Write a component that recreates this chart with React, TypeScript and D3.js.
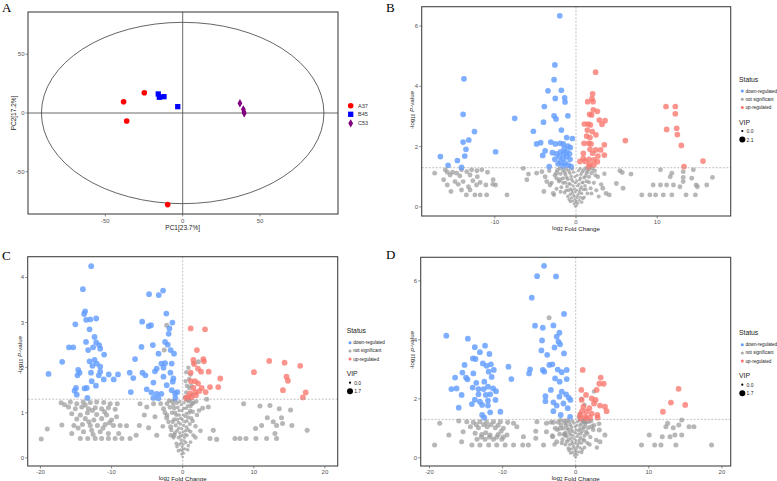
import React from 'react';
import * as d3 from 'd3';

// ---------------- PCA data (panel A) ----------------
const pcaGroups = ['A37', 'B45', 'C53'];
const pcaA37 = [[-38.2, 9.6], [-36.2, -6.8], [-24.8, 17.3], [-9.7, -78]];
const pcaB45 = [[-15.8, 16.2], [-15.1, 13.4], [-12.1, 13.9], [-3.2, 5.4]];
const pcaC53 = [[37, 8.3], [39.2, 3.1], [39.6, 0.8], [39.8, -0.3]];
const pcaTicks = [-50, 0, 50];
const pcaEllipse = [91.3, 77.2];
const pcaXTitle = 'PC1[23.7%]';
const pcaYTitle = 'PC2[17.2%]';

// ---------------- Volcano B ----------------
const downB = [[-2.0,6.34],[-13.8,4.25],[-2.6,4.71],[-2.7,4.22],[-3.45,3.85],[-1.8,3.87],[-1.4,3.62],[-2.55,3.6],[-1.35,3.48],[-3.9,3.33],[-13.9,3.07],[-7.55,2.94],[-2.7,3.02],[-1.0,3.02],[-2.46,2.92],[-4.0,2.81],[-12.5,2.5],[-5.25,2.51],[-1.8,2.55],[-13.2,2.22],[-13.9,2.15],[-1.15,2.3],[-0.45,2.27],[-4.85,2.09],[-4.35,2.13],[-3.1,2.15],[-2.55,2.09],[-1.97,2.11],[-1.56,2.09],[-0.7,1.97],[-13.55,1.91],[-9.9,1.83],[-3.8,1.86],[-4.1,1.71],[-13.7,1.69],[-16.7,1.67],[-14.6,1.54],[-15.75,1.38],[-14.1,1.31],[-3.3,1.34],[-2.9,1.8],[-2.4,1.76],[-1.9,1.83],[-1.5,1.78],[-1.15,1.83],[-0.8,1.76],[-2.05,1.67],[-1.56,1.61],[-1.15,1.67],[-0.74,1.58],[-1.9,1.5],[-1.35,1.45],[-0.95,1.39],[-0.6,1.34],[-2.2,1.43],[-1.6,1.36],[-2.6,1.58],[-1.0,2.02],[-1.45,1.94]];
const upB = [[2.42,4.47],[2.05,3.75],[1.97,3.59],[1.44,3.49],[2.1,3.49],[2.13,3.22],[2.63,3.17],[1.68,3.07],[1.93,3.05],[2.87,2.88],[3.57,2.86],[3.2,2.74],[1.03,2.75],[1.48,2.75],[1.77,2.72],[1.4,2.55],[2.0,2.5],[1.31,2.35],[2.46,2.39],[1.72,2.3],[0.99,2.11],[1.56,2.11],[1.85,2.09],[3.49,2.06],[6.08,2.2],[3.04,1.89],[2.42,1.89],[1.72,1.91],[0.9,1.78],[2.05,1.78],[2.7,1.69],[3.49,1.72],[0.9,1.61],[1.6,1.58],[2.2,1.56],[0.49,1.51],[1.15,1.51],[2.63,1.5],[1.72,1.41],[2.2,1.39],[1.56,1.34],[11.08,3.33],[12.23,3.33],[12.23,3.09],[11.16,2.57],[12.4,2.61],[12.48,2.4],[12.97,2.04],[13.3,1.34],[15.64,1.52]];
const nsB = [[-17.4,1.12],[-15.85,1.15],[-15.2,1.15],[-14.7,1.12],[-14.1,1.23],[-13.45,1.17],[-12.85,1.23],[-12.2,1.2],[-11.6,1.23],[-10.9,1.15],[-15.5,1.06],[-14.3,1.03],[-13.05,1.06],[-12.15,1.0],[-16.3,0.9],[-14.9,0.84],[-13.9,0.84],[-12.7,0.87],[-11.8,0.81],[-10.2,0.9],[-15.85,0.73],[-14.5,0.75],[-13.25,0.67],[-12.25,0.73],[-11.1,0.73],[-9.9,0.73],[-15.4,0.51],[-14.1,0.56],[-13.05,0.56],[-13.5,0.4],[-12.45,0.4],[-11.8,0.4],[-11.0,0.4],[-8.5,0.4],[-10.25,0.75],[-16.1,1.23],[-6.5,1.28],[-5.85,1.09],[-6.05,0.9],[-4.85,1.12],[-4.2,1.17],[-3.8,1.0],[-3.6,0.84],[-3.2,0.73],[-3.95,0.51],[-2.8,0.45],[-2.4,1.12],[-2.0,0.9],[5.4,1.2],[5.7,1.14],[6.77,1.09],[4.97,0.78],[5.8,0.62],[3.3,0.62],[3.7,0.45],[4.1,0.4],[8.1,0.4],[9.1,0.4],[9.8,0.4],[10.75,0.4],[11.8,0.4],[13.55,0.4],[14.7,0.4],[9.5,0.73],[10.4,0.73],[11.16,0.73],[12.0,0.73],[12.8,0.67],[13.2,0.84],[14.25,0.95],[14.8,0.73],[16.1,0.73],[16.8,0.98],[10.4,1.23],[11.8,1.12],[11.6,1.0],[13.2,1.17],[14.45,1.23],[13.2,0.98],[14.95,0.67]];
const coreB = [[-0.1,0.02,0.2],[0.1,0.05,0.2],[-0.25,0.1,0.3],[0.25,0.12,0.3],[-0.4,0.2,0.4],[0.4,0.22,0.4],[-0.15,0.25,0.3],[0.15,0.3,0.3],[-0.55,0.3,0.5],[0.55,0.32,0.5],[-0.3,0.4,0.4],[0.35,0.45,0.4],[-0.7,0.42,0.6],[0.7,0.45,0.6],[-0.5,0.55,0.5],[0.5,0.6,0.5],[-0.9,0.55,0.7],[0.9,0.58,0.7],[-0.2,0.6,0.4],[0.2,0.7,0.4],[-1.1,0.68,0.8],[1.1,0.7,0.8],[-0.7,0.75,0.6],[0.75,0.8,0.6],[-1.3,0.8,0.9],[1.3,0.85,0.9],[-0.4,0.85,0.5],[0.45,0.9,0.5],[-1.0,0.92,0.8],[1.0,0.97,0.8],[-1.6,0.95,1.0],[1.6,1.0,1.0],[-0.6,1.02,0.6],[0.6,1.08,0.6],[-1.3,1.08,0.9],[1.3,1.12,0.9],[-1.9,1.1,1.0],[1.9,1.12,1.0],[-0.3,1.15,0.5],[0.3,1.2,0.5],[-0.9,1.2,0.8],[0.9,1.22,0.8],[-1.6,1.22,1.0],[1.6,1.25,1.0],[-2.3,1.22,1.1],[2.3,1.2,1.1],[-2.6,1.05,1.1],[2.7,1.0,1.1],[-2.1,0.85,1.0],[2.2,0.8,1.0],[-1.8,0.65,0.9],[1.8,0.62,0.9],[-1.4,0.48,0.8],[1.4,0.45,0.8],[-1.0,0.35,0.7],[1.0,0.32,0.7],[-0.7,0.18,0.6],[0.7,0.16,0.6],[-3.0,0.8,1.1],[3.1,0.75,1.1],[-2.4,0.6,1.0],[2.5,0.55,1.0],
  [-0.05,0.15,0.3],[0.05,0.18,0.3],[-0.2,0.35,0.4],[0.2,0.38,0.4],[-0.45,0.48,0.5],[0.45,0.52,0.5],[-0.1,0.5,0.35],[0.1,0.55,0.35],[-0.65,0.6,0.6],[0.65,0.66,0.6],[-0.35,0.7,0.5],[0.35,0.76,0.5],[-0.85,0.78,0.7],[0.85,0.82,0.7],[-0.1,0.8,0.4],[0.1,0.86,0.4],[-0.55,0.92,0.6],[0.55,0.96,0.6],[-1.15,0.98,0.8],[1.15,1.02,0.8],[-0.15,1.0,0.45],[0.15,1.05,0.45],[-0.75,1.12,0.7],[0.75,1.15,0.7],[-1.4,1.15,0.9],[1.4,1.18,0.9],[-0.45,1.25,0.6],[0.5,1.27,0.6],[-1.2,1.27,0.9],[1.2,1.28,0.9],[-2.0,1.28,1.0],[2.0,1.27,1.0],[-1.6,0.8,0.9],[1.6,0.82,0.9],[-2.4,0.95,1.0],[2.4,1.05,1.0],[-1.9,0.5,0.9],[1.9,0.45,0.9],[-1.2,0.55,0.8],[1.2,0.58,0.8],[-0.85,0.25,0.6],[0.85,0.27,0.6],[-3.3,1.2,1.1],[3.5,1.1,1.1],[-2.7,0.4,0.9],[2.8,0.35,0.9]];

// ---------------- Volcano C ----------------
const downC = [[-12.87,4.25],[-14.04,3.74],[-13.72,3.25],[-13.86,3.19],[-13.0,3.07],[-12.17,3.09],[-13.58,3.06],[-13.1,2.85],[-15.1,2.96],[-12.4,2.68],[-12.17,2.56],[-13.6,2.57],[-16.0,2.45],[-15.4,2.45],[-11.75,2.5],[-11.6,2.42],[-13.3,2.39],[-12.6,2.45],[-16.95,2.13],[-11.05,2.29],[-13.1,2.14],[-12.4,2.17],[-12.08,2.09],[-12.7,2.04],[-11.6,2.02],[-18.87,1.86],[-14.7,1.95],[-14.5,1.89],[-12.9,1.89],[-11.6,1.91],[-10.4,1.85],[-9.1,1.85],[-14.8,1.83],[-11.8,1.83],[-11.1,1.74],[-9.7,1.74],[-12.8,1.7],[-12.2,1.6],[-15.0,1.55],[-13.8,1.54],[-15.2,1.49],[-13.5,1.55],[-14.9,1.4],[-13.4,1.33],[-4.73,3.63],[-3.37,3.61],[-2.76,3.71],[-5.7,3.02],[-4.45,2.94],[-4.78,2.92],[-2.3,3.2],[-1.45,3.0],[-1.87,2.87],[-1.97,2.75],[-4.2,2.5],[-5.8,2.46],[-2.48,2.57],[-2.1,2.51],[-3.4,2.31],[-1.69,2.39],[-1.22,2.31],[-6.7,2.19],[-3.0,2.09],[-2.48,2.1],[-1.55,2.09],[-3.65,1.98],[-2.7,2.0],[-3.9,1.92],[-7.45,1.89],[-5.66,1.89],[-5.24,1.83],[-6.95,1.77],[-1.73,1.89],[-1.31,1.76],[-1.4,1.69],[-2.7,1.8],[-4.12,1.67],[-2.25,1.61],[-1.55,1.5],[-4.4,1.45],[-7.3,1.46],[-3.65,1.42],[-3.0,1.42],[-1.08,1.43],[-0.75,1.46],[-1.03,1.33],[-4.12,1.33],[-3.42,1.32],[-5.06,1.52]];
const upC = [[1.12,2.87],[3.14,2.85],[2.0,2.39],[1.5,2.17],[2.9,2.19],[2.99,2.14],[1.6,2.08],[2.15,1.98],[2.57,1.91],[1.12,1.89],[3.65,1.91],[5.29,1.76],[1.17,1.7],[1.73,1.7],[2.15,1.65],[1.5,1.55],[2.67,1.55],[3.23,1.46],[3.84,1.57],[5.0,1.57],[2.34,1.48],[1.78,1.46],[1.03,1.43],[0.8,1.35],[0.47,1.33],[1.26,1.34],[1.87,1.39],[12.17,2.15],[14.33,2.11],[16.53,2.04],[10.02,1.9],[14.6,1.8],[14.8,1.71],[14.1,1.5],[17.3,1.45],[16.9,1.34]];
const nsC = [[-19.9,0.42],[-19.05,0.64],[-17.0,0.73],[-17.1,1.22],[-15.8,1.24],[-14.9,1.2],[-14.0,1.24],[-13.0,1.23],[-12.1,1.24],[-11.1,1.23],[-10.2,1.2],[-9.2,1.2],[-16.05,1.13],[-15.1,1.09],[-14.2,1.13],[-13.25,1.09],[-12.3,1.11],[-11.4,1.09],[-10.45,1.11],[-9.5,1.08],[-15.6,0.98],[-14.4,0.95],[-13.4,1.0],[-12.1,0.96],[-10.7,0.95],[-9.3,0.91],[-14.9,0.86],[-13.7,0.87],[-12.5,0.84],[-11.4,0.87],[-10.0,0.84],[-15.3,0.72],[-14.1,0.74],[-13.0,0.72],[-12.0,0.72],[-10.9,0.74],[-9.75,0.72],[-8.8,0.72],[-7.9,0.71],[-13.95,0.58],[-12.8,0.61],[-11.6,0.58],[-10.45,0.54],[-14.4,0.43],[-13.35,0.43],[-12.3,0.43],[-11.4,0.43],[-10.45,0.43],[-9.5,0.43],[-8.55,0.43],[-7.4,0.43],[-15.6,0.54],[-9.0,0.54],[-6.0,1.2],[-5.05,1.13],[-4.1,1.2],[-5.4,0.95],[-3.9,0.91],[-6.1,0.72],[-4.8,0.67],[-6.55,0.5],[-3.65,0.5],[-2.7,1.09],[-2.25,0.89],[-1.7,0.69],[-1.22,0.5],[-2.25,2.94],[-2.6,2.39],[2.2,2.13],[8.57,1.2],[10.86,1.15],[12.27,1.16],[13.58,1.09],[15.17,1.06],[11.9,0.89],[13.9,0.89],[12.73,0.8],[14.04,0.76],[15.35,0.72],[10.25,0.65],[11.1,0.72],[13.2,0.72],[17.5,0.61],[12.97,0.54],[7.35,0.43],[8.05,0.43],[8.9,0.43],[10.3,0.43],[11.8,0.43],[13.2,0.43],[3.84,0.43],[4.78,0.41],[4.3,0.61],[3.6,1.13],[3.37,1.3],
  [-16.6,1.18],[-13.7,1.17],[-12.7,1.05],[-11.0,1.02],[-14.7,0.66],[-11.2,0.66],[-12.6,0.52],[-13.2,0.8],[-10.3,0.78]];
const coreC = [[0.0,0.02,0.2],[-0.15,0.08,0.3],[0.15,0.1,0.3],[-0.3,0.18,0.4],[0.3,0.2,0.4],[-0.1,0.25,0.3],[0.1,0.3,0.3],[-0.45,0.3,0.5],[0.45,0.34,0.5],[-0.25,0.4,0.4],[0.25,0.45,0.4],[-0.6,0.45,0.6],[0.6,0.5,0.6],[-0.4,0.55,0.5],[0.4,0.6,0.5],[-0.8,0.6,0.7],[0.8,0.62,0.7],[-0.15,0.65,0.4],[0.15,0.72,0.4],[-1.0,0.72,0.8],[1.0,0.75,0.8],[-0.6,0.78,0.6],[0.6,0.82,0.6],[-1.2,0.85,0.9],[1.2,0.88,0.9],[-0.3,0.88,0.5],[0.35,0.92,0.5],[-0.9,0.95,0.8],[0.9,1.0,0.8],[-1.5,1.0,1.0],[1.4,1.02,1.0],[-0.5,1.05,0.6],[0.5,1.1,0.6],[-1.2,1.1,0.9],[1.1,1.15,0.9],[-1.8,1.12,1.0],[-0.2,1.18,0.5],[0.2,1.22,0.5],[-0.8,1.22,0.8],[0.8,1.25,0.8],[-1.5,1.25,1.0],[1.5,1.22,1.0],[-2.2,1.2,1.1],[-2.5,1.0,1.1],[2.0,0.95,1.0],[-2.0,0.8,1.0],[1.8,0.7,0.9],[-1.6,0.62,0.9],[1.5,0.5,0.8],[-1.3,0.45,0.8],[1.1,0.35,0.7],[-0.9,0.32,0.7],[0.7,0.18,0.6],[-0.6,0.16,0.6],[-2.8,0.7,1.0],[2.5,0.6,1.0],[0.5,1.45,0.9],[0.9,1.55,0.9],[0.4,1.7,0.8],[1.1,1.85,0.9],[0.8,2.0,0.9],[1.5,2.1,0.9],[0.3,1.35,0.8],[1.3,1.4,0.9],
  [-0.05,0.14,0.3],[0.05,0.2,0.3],[-0.2,0.34,0.4],[0.2,0.38,0.4],[-0.35,0.48,0.5],[0.35,0.52,0.5],[-0.05,0.5,0.35],[0.05,0.58,0.35],[-0.55,0.66,0.6],[0.55,0.68,0.6],[-0.3,0.75,0.5],[0.3,0.8,0.5],[-0.75,0.85,0.7],[0.75,0.9,0.7],[-0.05,0.85,0.4],[0.05,0.95,0.4],[-0.5,0.95,0.6],[0.5,0.98,0.6],[-1.05,1.0,0.8],[1.05,1.05,0.8],[-0.1,1.05,0.45],[0.15,1.1,0.45],[-0.7,1.12,0.7],[0.7,1.15,0.7],[-1.3,1.18,0.9],[1.3,1.2,0.9],[-0.4,1.25,0.6],[0.45,1.28,0.6],[-1.1,1.27,0.9],[1.0,1.28,0.9],[-1.9,1.27,1.0],[1.9,1.25,1.0],[-1.4,0.8,0.9],[1.4,0.82,0.9],[-2.2,0.95,1.0],[2.3,1.05,1.0],[-1.7,0.5,0.9],[1.8,0.45,0.9],[-1.1,0.55,0.8],[1.1,0.58,0.8],[-0.8,0.25,0.6],[0.8,0.27,0.6],[-3.1,1.2,1.1],[2.8,1.1,1.1],[0.6,1.6,0.9],[0.9,1.75,0.9],[0.5,1.9,0.9],[1.2,1.6,0.9]];

// ---------------- Volcano D ----------------
const downD = [[-4.33,6.51],[-5.28,6.16],[-2.69,6.15],[-6.01,5.43],[-1.59,4.88],[-5.56,4.48],[-4.5,4.41],[-3.05,4.49],[-2.23,4.24],[-17.7,4.14],[-14.75,4.04],[-2.6,4.11],[-4.6,3.98],[-2.37,3.94],[-2.14,3.85],[-13.8,3.75],[-12.4,3.8],[-2.9,3.74],[-4.69,3.64],[-3.9,3.49],[-1.6,3.54],[-13.1,3.58],[-11.8,3.52],[-14.06,3.37],[-13.7,3.35],[-12.7,3.2],[-3.6,3.15],[-3.19,3.17],[-15.2,3.15],[-12.2,3.12],[-11.6,3.17],[-9.2,3.09],[-11.9,2.92],[-6.24,3.0],[-6.38,2.86],[-4.5,2.98],[-4.3,2.92],[-2.46,2.99],[-1.91,2.9],[-1.23,2.98],[-15.5,2.89],[-15.0,2.72],[-14.0,2.86],[-11.2,2.98],[-16.5,2.72],[-14.8,2.66],[-8.8,2.67],[-13.6,2.54],[-12.5,2.58],[-11.5,2.74],[-2.82,2.69],[-2.19,2.58],[-1.23,2.67],[-14.1,2.38],[-13.3,2.33],[-12.6,2.33],[-12.0,2.41],[-11.3,2.35],[-10.9,2.26],[-17.0,2.33],[-16.3,2.35],[-15.6,2.13],[-13.3,2.15],[-12.3,2.13],[-11.7,2.15],[-3.4,2.3],[-1.91,2.24],[-1.32,2.15],[-0.96,2.04],[-0.73,1.96],[-4.14,2.09],[-2.23,2.07],[-13.8,1.97],[-13.1,1.9],[-12.0,1.94],[-10.97,1.96],[-14.2,1.82],[-12.8,1.79],[-12.0,1.77],[-16.0,1.7],[-4.14,1.92],[-3.05,1.88],[-2.6,1.77],[-1.68,1.84],[-1.09,1.68],[-3.05,1.58],[-10.3,1.56],[-11.7,1.54],[-12.8,1.45],[-2.05,1.45],[-0.77,1.39],[-12.5,1.36]];
const upD = [[0.96,2.98],[3.42,2.72],[3.83,2.51],[3.23,2.51],[0.77,2.3],[1.41,2.13],[2.19,2.01],[0.82,1.96],[2.87,2.3],[3.32,1.77],[4.0,1.73],[4.23,1.58],[2.73,1.96],[1.05,1.73],[1.87,1.68],[2.5,1.84],[0.87,1.58],[1.5,1.56],[2.19,1.5],[2.96,1.45],[0.59,1.45],[1.27,1.39],[1.96,1.36],[0.68,1.34],[1.5,1.34],[3.0,1.36],[14.07,2.34],[13.02,1.87],[14.98,1.79],[11.93,1.56]];
const nsD = [[-19.3,0.43],[-18.6,1.17],[-17.35,0.77],[-16.0,1.25],[-15.4,0.88],[-15.6,0.54],[-14.9,1.22],[-14.0,1.2],[-13.1,1.22],[-12.2,1.2],[-11.25,1.22],[-10.3,1.22],[-9.3,1.2],[-8.5,1.17],[-14.4,1.05],[-13.3,1.02],[-12.1,1.05],[-11.0,1.02],[-9.9,1.0],[-8.05,1.05],[-13.75,0.83],[-12.85,0.79],[-11.7,0.77],[-10.6,0.79],[-9.4,0.77],[-13.5,0.63],[-12.4,0.63],[-11.25,0.63],[-10.1,0.63],[-14.2,0.43],[-13.1,0.43],[-11.9,0.43],[-10.8,0.43],[-9.65,0.43],[-8.5,0.43],[-7.24,0.43],[-6.47,0.43],[-7.15,0.71],[-5.3,1.22],[-4.0,1.17],[-3.05,1.2],[-5.46,0.9],[-4.0,0.88],[-3.14,0.71],[-5.46,0.66],[-4.4,0.43],[-2.6,0.54],[-3.64,4.75],[-2.14,1.0],[-1.46,0.77],[1.18,1.22],[2.19,1.05],[3.23,0.94],[4.0,0.77],[3.32,0.54],[10.06,0.77],[9.0,0.43],[10.8,0.43],[11.66,0.43],[13.7,0.43],[18.58,0.43],[11.84,0.71],[12.9,0.71],[13.57,0.77],[14.5,0.77],[12.34,1.05],[13.34,1.02],[14.1,1.11],[14.5,1.28],[15.5,1.05],[16.17,1.05],[12.57,1.17],
  [-13.6,1.12],[-12.6,1.12],[-11.6,1.12],[-10.6,1.1],[-12.9,0.7],[-11.8,0.7],[-10.8,0.7],[-9.9,0.7],[-12.3,0.85],[-10.2,0.9]];
const coreD = [[0.0,0.02,0.2],[-0.2,0.08,0.3],[0.2,0.1,0.3],[-0.4,0.18,0.4],[0.4,0.2,0.4],[-0.1,0.25,0.3],[0.1,0.3,0.3],[-0.6,0.3,0.5],[0.6,0.34,0.5],[-0.3,0.4,0.4],[0.3,0.45,0.4],[-0.8,0.45,0.6],[0.8,0.5,0.6],[-0.5,0.55,0.5],[0.5,0.6,0.5],[-1.0,0.6,0.7],[1.0,0.62,0.7],[-0.2,0.65,0.4],[0.2,0.72,0.4],[-1.2,0.72,0.8],[1.2,0.75,0.8],[-0.7,0.78,0.6],[0.7,0.82,0.6],[-1.4,0.85,0.9],[1.4,0.88,0.9],[-0.4,0.88,0.5],[0.4,0.92,0.5],[-1.0,0.95,0.8],[1.0,1.0,0.8],[-1.7,1.0,1.0],[1.7,1.02,1.0],[-0.6,1.05,0.6],[0.6,1.1,0.6],[-1.3,1.1,0.9],[1.3,1.15,0.9],[-2.0,1.12,1.0],[-0.25,1.18,0.5],[0.25,1.22,0.5],[-0.9,1.22,0.8],[0.9,1.25,0.8],[-1.6,1.25,1.0],[1.8,1.22,1.0],[-2.4,1.2,1.1],[-2.8,1.0,1.1],[2.4,0.95,1.0],[-2.2,0.8,1.0],[2.0,0.7,0.9],[-1.8,0.62,0.9],[1.6,0.5,0.8],[-1.4,0.45,0.8],[1.2,0.35,0.7],[-1.0,0.32,0.7],[0.8,0.18,0.6],[-0.7,0.16,0.6],[-3.2,0.75,1.0],[2.8,0.6,1.0],[0.6,1.5,0.9],[1.2,1.8,0.9],[2.5,2.25,0.9],[0.8,2.0,0.9],[0.4,1.38,0.8],
  [-0.05,0.14,0.3],[0.05,0.2,0.3],[-0.25,0.34,0.4],[0.25,0.38,0.4],[-0.45,0.48,0.5],[0.45,0.52,0.5],[-0.05,0.5,0.35],[0.05,0.58,0.35],[-0.65,0.66,0.6],[0.65,0.68,0.6],[-0.35,0.75,0.5],[0.35,0.8,0.5],[-0.85,0.85,0.7],[0.85,0.9,0.7],[-0.05,0.85,0.4],[0.05,0.95,0.4],[-0.55,0.95,0.6],[0.55,0.98,0.6],[-1.15,1.0,0.8],[1.15,1.05,0.8],[-0.1,1.05,0.45],[0.15,1.1,0.45],[-0.75,1.12,0.7],[0.75,1.15,0.7],[-1.4,1.18,0.9],[1.4,1.2,0.9],[-0.45,1.25,0.6],[0.5,1.28,0.6],[-1.15,1.27,0.9],[1.1,1.28,0.9],[-2.1,1.27,1.0],[2.1,1.25,1.0],[-1.6,0.8,0.9],[1.6,0.82,0.9],[-2.5,0.95,1.0],[2.5,1.1,1.0],[-1.9,0.5,0.9],[1.9,0.45,0.9],[-1.2,0.55,0.8],[1.2,0.58,0.8],[-0.9,0.25,0.6],[0.9,0.27,0.6],[-3.4,1.2,1.1],[3.2,1.15,1.1],[-2.9,0.45,0.9],[2.9,0.35,0.9]];

const statusLabels = ['down-regulated', 'not significant', 'up-regulated'];
const statusColors = ['#619CFF', '#A9A9A9', '#F8766D'];

const FONT = 'Liberation Sans, Arial, sans-serif';
const SERIF = 'Liberation Serif, Times New Roman, serif';

function PCA() {
  const x = d3.scaleLinear().domain([-100, 100.4]).range([28, 338]);
  const y = d3.scaleLinear().domain([-86, 86]).range([214, 12]);
  const sq = d3.symbol().type(d3.symbolSquare).size(28)() as string;
  const dia = d3.symbol().type(d3.symbolDiamond).size(20)() as string;
  const legendY = [105.7, 114.3, 123.3];
  return (
    <g>
      <text x={2} y={11.7} fontFamily={SERIF} fontSize={13}>A</text>
      <rect x={28} y={12} width={310} height={202} fill="none" stroke="#444" strokeWidth={1.1} />
      <ellipse cx={x(0)} cy={y(0)} rx={x(pcaEllipse[0]) - x(0)} ry={y(0) - y(pcaEllipse[1])} fill="none" stroke="#222" strokeWidth={0.7} />
      <line x1={28} x2={338} y1={y(0)} y2={y(0)} stroke="#444" strokeWidth={0.8} />
      <line x1={x(0)} x2={x(0)} y1={12} y2={214} stroke="#444" strokeWidth={0.8} />
      {pcaTicks.map(t => (
        <g key={'x' + t}>
          <line x1={x(t)} x2={x(t)} y1={214} y2={216.5} stroke="#444" strokeWidth={0.6} />
          <text x={x(t)} y={221} fontSize={6} fill="#555" textAnchor="middle" dominantBaseline="central" fontFamily={FONT}>{t}</text>
          <line x1={25.5} x2={28} y1={y(t)} y2={y(t)} stroke="#444" strokeWidth={0.6} />
          <text x={24.5} y={y(t)} fontSize={6} fill="#555" textAnchor="end" dominantBaseline="central" fontFamily={FONT}>{t}</text>
        </g>
      ))}
      <text x={x(0)} y={227.7} fontSize={6.5} textAnchor="middle" dominantBaseline="central" fontFamily={FONT} fill="#222">{pcaXTitle}</text>
      <text transform={`translate(13.5,${y(0)}) rotate(-90)`} fontSize={6.5} textAnchor="middle" dominantBaseline="central" fontFamily={FONT} fill="#222">{pcaYTitle}</text>
      {pcaA37.map((d, i) => <circle key={'a' + i} cx={x(d[0])} cy={y(d[1])} r={2.8} fill="#FF0000" />)}
      {pcaB45.map((d, i) => <path key={'b' + i} d={sq} transform={`translate(${x(d[0])},${y(d[1])})`} fill="#0000FF" />)}
      {pcaC53.map((d, i) => <path key={'c' + i} d={dia} transform={`translate(${x(d[0])},${y(d[1])})`} fill="#800080" />)}
      {pcaGroups.map((g, i) => (
        <g key={g}>
          {i === 0 && <circle cx={350.7} cy={legendY[i]} r={2.8} fill="#FF0000" />}
          {i === 1 && <path d={sq} transform={`translate(350.7,${legendY[i]})`} fill="#0000FF" />}
          {i === 2 && <path d={dia} transform={`translate(350.7,${legendY[i]})`} fill="#800080" />}
          <text x={358} y={legendY[i]} fontSize={5.5} dominantBaseline="central" fontFamily={FONT} fill="#333">{g}</text>
        </g>
      ))}
    </g>
  );
}

type Cfg = {
  letter: string; letterX: number; letterY: number;
  box: number[]; xDomain: number[]; yDomain: number[];
  xTicks: number[]; yTicks: number[];
  down: number[][]; up: number[][]; ns: number[][]; core: number[][];
  vipSig: number; vipNs: number; vipMax: number;
  legX: number; legY: number; yTitleX: number; yTitleY: number;
};

function Volcano({ c }: { c: Cfg }) {
  const [l, t, r, b] = c.box;
  const x = d3.scaleLinear().domain(c.xDomain).range([l, r]);
  const y = d3.scaleLinear().domain(c.yDomain).range([b, t]);
  const rad = d3.scaleLinear().domain([0, c.vipMax]).range([1.1, 3.2]);
  const thr = -Math.log10(0.05);
  const pts = (arr: number[][], col: string, vip: number, op: number, key: string) =>
    arr.map((d, i) => (
      <circle key={key + i} cx={x(d[0])} cy={y(d[1])} r={rad(d[2] ?? vip)} fill={col} fillOpacity={op} />
    ));
  const lx = c.legX, ly = c.legY;
  return (
    <g>
      <text x={c.letterX} y={c.letterY} fontFamily={SERIF} fontSize={13}>{c.letter}</text>
      {pts(c.ns, '#999999', c.vipNs, 0.7, 'n')}
      {pts(c.core, '#999999', c.vipNs, 0.7, 'k')}
      {pts(c.down, statusColors[0], c.vipSig, 0.82, 'd')}
      {pts(c.up, statusColors[2], c.vipSig, 0.78, 'u')}
      <line x1={l} x2={r} y1={y(thr)} y2={y(thr)} stroke="#999" strokeWidth={0.6} strokeDasharray="2,1.5" />
      <line x1={x(0)} x2={x(0)} y1={t} y2={b} stroke="#999" strokeWidth={0.6} strokeDasharray="2,1.5" />
      <rect x={l} y={t} width={r - l} height={b - t} fill="none" stroke="#444" strokeWidth={1.1} />
      {c.xTicks.map(v => (
        <g key={'x' + v}>
          <line x1={x(v)} x2={x(v)} y1={b} y2={b + 2.5} stroke="#444" strokeWidth={0.6} />
          <text x={x(v)} y={b + 5.7} fontSize={6} fill="#555" textAnchor="middle" dominantBaseline="central" fontFamily={FONT}>{v}</text>
        </g>
      ))}
      {c.yTicks.map(v => (
        <g key={'y' + v}>
          <line x1={l - 2.5} x2={l} y1={y(v)} y2={y(v)} stroke="#444" strokeWidth={0.6} />
          <text x={l - 3.5} y={y(v)} fontSize={6} fill="#555" textAnchor="end" dominantBaseline="central" fontFamily={FONT}>{v}</text>
        </g>
      ))}
      <text x={x(0)} y={b + 11.7} fontSize={6.2} textAnchor="middle" dominantBaseline="central" fontFamily={FONT} fill="#222">
        log<tspan fontSize={4.5} dy={1.5}>2</tspan><tspan dy={-1.5}> Fold Change</tspan>
      </text>
      <text transform={`translate(${c.yTitleX},${c.yTitleY}) rotate(-90)`} fontSize={6.2} textAnchor="middle" dominantBaseline="central" fontFamily={FONT} fill="#222">
        -log<tspan fontSize={4.5} dy={1.5}>10</tspan><tspan dy={-1.5}> </tspan><tspan fontStyle="italic">P</tspan>-value
      </text>
      <text x={lx} y={ly} fontSize={6.8} dominantBaseline="central" fontFamily={FONT} fill="#222">Status</text>
      {statusLabels.map((s, i) => (
        <g key={s}>
          <circle cx={lx + 3.3} cy={ly + 12 + i * 8.2} r={1.5} fill={statusColors[i]} />
          <text x={lx + 6.5} y={ly + 12 + i * 8.2} fontSize={4.6} dominantBaseline="central" fontFamily={FONT} fill="#222">{s}</text>
        </g>
      ))}
      <text x={lx} y={ly + 43} fontSize={6.8} dominantBaseline="central" fontFamily={FONT} fill="#222">VIP</text>
      <circle cx={lx + 3.3} cy={ly + 52} r={rad(0)} fill="#000" />
      <text x={lx + 7.5} y={ly + 52} fontSize={5} dominantBaseline="central" fontFamily={FONT} fill="#222">0.0</text>
      <circle cx={lx + 3.3} cy={ly + 60.6} r={rad(c.vipMax) - 0.2} fill="#000" />
      <text x={lx + 7.5} y={ly + 60.6} fontSize={5} dominantBaseline="central" fontFamily={FONT} fill="#222">{c.vipMax.toFixed(1)}</text>
    </g>
  );
}

const cfgB: Cfg = {
  letter: 'B', letterX: 386, letterY: 11.7, box: [421.7, 6.7, 730.7, 216],
  xDomain: [-19, 19.05], yDomain: [-0.3, 6.64], xTicks: [-10, 0, 10], yTicks: [0, 2, 4, 6],
  down: downB, up: upB, ns: nsB, core: coreB, vipSig: 1.75, vipNs: 1.35, vipMax: 2.1,
  legX: 739, legY: 79, yTitleX: 411, yTitleY: 110,
};
const cfgC: Cfg = {
  letter: 'C', letterX: 2, letterY: 260, box: [27.7, 256.7, 337.7, 466],
  xDomain: [-21.8, 21.8], yDomain: [-0.18, 4.46], xTicks: [-20, -10, 0, 10, 20], yTicks: [0, 1, 2, 3, 4],
  down: downC, up: upC, ns: nsC, core: coreC, vipSig: 1.45, vipNs: 1.15, vipMax: 1.7,
  legX: 346.7, legY: 330.7, yTitleX: 19, yTitleY: 355,
};
const cfgD: Cfg = {
  letter: 'D', letterX: 386, letterY: 259, box: [420.7, 257.3, 730.7, 466],
  xDomain: [-21.2, 21.2], yDomain: [-0.28, 6.8], xTicks: [-20, -10, 0, 10, 20], yTicks: [0, 2, 4, 6],
  down: downD, up: upD, ns: nsD, core: coreD, vipSig: 1.45, vipNs: 1.15, vipMax: 1.7,
  legX: 739, legY: 332.7, yTitleX: 411.5, yTitleY: 350,
};

export default function App() {
  return (
    <svg width={777} height={481} viewBox="0 0 777 481" style={{ position: 'absolute', left: 0, top: 0, background: '#fff' }}>
      <rect width={777} height={481} fill="#fff" />
      <PCA />
      <Volcano c={cfgB} />
      <Volcano c={cfgC} />
      <Volcano c={cfgD} />
    </svg>
  );
}
